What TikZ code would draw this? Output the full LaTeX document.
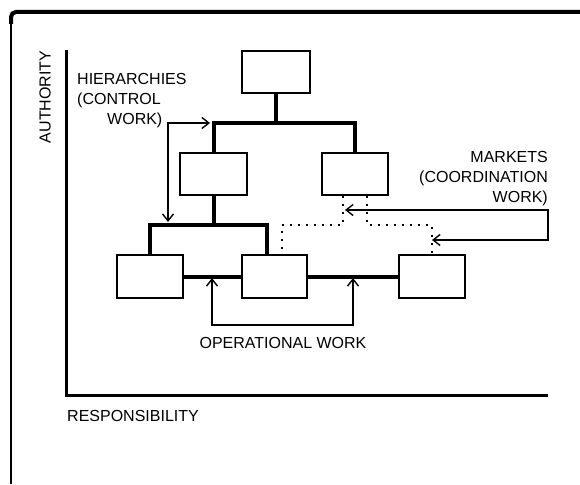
\documentclass[tikz,border=0pt]{standalone}
\usepackage{fontspec}
\setmainfont{Liberation Sans}
\usetikzlibrary{arrows.meta}
\begin{document}
\begin{tikzpicture}[x=1pt,y=-1pt,
  box/.style={draw,rectangle,inner sep=0pt,line width=1.8pt,minimum width=67pt,minimum height=42pt},
  heavy/.style={line width=4pt},
  arr/.style={line width=1.5pt,arrows={Straight Barb[length=7pt,width=11pt,line width=1.4pt]-Straight Barb[length=7pt,width=11pt,line width=1.4pt]}},
  dots/.style={line width=2pt,dash pattern=on 2pt off 6pt},
  lbl/.style={font=\fontsize{16}{20}\selectfont,inner sep=0pt}]
\useasboundingbox (0,0) rectangle (580,484);
% frame
\draw[line width=4pt,rounded corners=5pt] (11,24) -- (11,12) -- (580,12);
\draw[line width=1.8pt] (11,20) -- (11,484);
% axes
\draw[line width=3pt,miter limit=10] (66,50) -- (66,395) -- (548,395);
\node[lbl,rotate=90] (auth) at (45,97) {AUTHORITY};
\node[lbl,anchor=west] (resp) at (67,416) {RESPONSIBILITY};
% boxes
\node[box,minimum width=68pt] (T) at (276,72) {};
\node[box] (M1) at (213.5,174) {};
\node[box,minimum width=66pt] (M2) at (355,174) {};
\node[box,minimum width=66pt,minimum height=43pt] (B1) at (150,276.5) {};
\node[box,minimum width=65pt,minimum height=43pt] (B2) at (274.5,276.5) {};
\node[box,minimum width=66pt,minimum height=43pt] (B3) at (432,276.5) {};
% hierarchy lines
\coordinate (tb) at (276,123);
\coordinate (lb) at (213,224.5);
\draw[heavy] (T.south) -- (T.south |- tb);
\draw[heavy] (M1.north) -- (M1.north |- tb) -- (M2.north |- tb) -- (M2.north);
\draw[heavy] (M1.south) -- (M1.south |- lb);
\coordinate (b2top) at ([xshift=-7.5pt]B2.north);
\draw[heavy] (B1.north) -- (B1.north |- lb) -- (b2top |- lb) -- (b2top);
\draw[heavy] (B1.east) -- (B2.west);
\draw[heavy] (B2.east) -- (B3.west);
% hierarchy arrow
\coordinate (hA) at (210,123);
\coordinate (hB) at (168,222);
\draw[arr] (hB) -- (hB |- hA) -- (hA);
\node[lbl,anchor=north west,align=left] (hier) at (77,73) {HIERARCHIES\\(CONTROL\\\hspace*{30pt}WORK)};
% markets
\node[lbl,anchor=north east,align=right] (mkt) at (548,151) {MARKETS\\(COORDINATION\\WORK)};
\coordinate (mA) at (345,210);
\coordinate (mB) at (432,240);
\draw[arr] (mA) -- (548,210) -- (548,240) -- (mB);
\draw[dots] ([xshift=-12pt]M2.south) -- ([xshift=-12pt]M2.south |- 0,225) -- (282,225) -- (282,253);
\draw[dots] ([xshift=12pt]M2.south) -- ([xshift=12pt]M2.south |- 0,225) -- (B3.north |- 0,225) -- ([yshift=-3pt]B3.north);
% operational
\coordinate (opL) at (212,278);
\coordinate (opR) at (353,278);
\draw[arr] (opL) -- (212,325) -- (353,325) -- (opR);
\node[lbl] (op) at (283,343) {OPERATIONAL WORK};
\end{tikzpicture}
\end{document}
